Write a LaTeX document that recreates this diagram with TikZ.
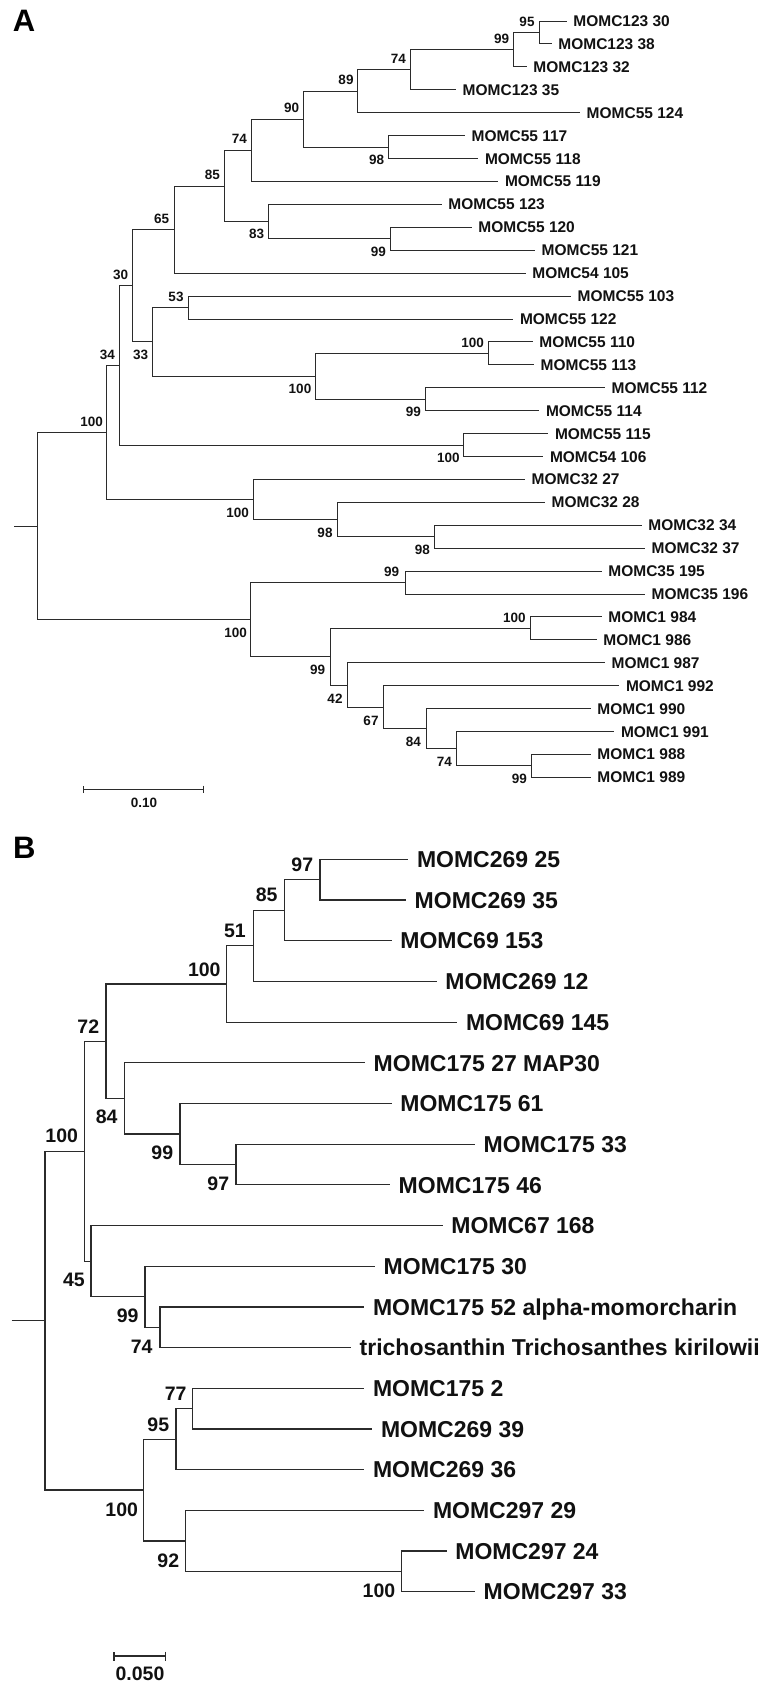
\documentclass[tikz,border=0pt]{standalone}
\usepackage{fontspec}
\setmainfont{Liberation Sans}
\usetikzlibrary{arrows.meta}
\definecolor{treeline}{HTML}{2B2B2B}
\definecolor{labeltext}{HTML}{111111}
\tikzset{
  branch-a/.style={draw=treeline, line width=0.9pt},
  branch-b/.style={draw=treeline, line width=1.2pt},
  tip-a/.style={anchor=west, inner xsep=6.5pt, inner ysep=0pt, text height=11.1pt, text depth=0pt, text=labeltext, font=\fontsize{15.5}{18}\selectfont\bfseries},
  tip-b/.style={anchor=west, inner xsep=8.5pt, inner ysep=0pt, text height=16.5pt, text depth=0pt, text=labeltext, font=\fontsize{23}{27}\selectfont\bfseries},
  boot-a/.style={inner sep=0pt, text=labeltext, font=\fontsize{13.5}{16}\selectfont\bfseries},
  boot-b/.style={inner sep=0pt, text=labeltext, font=\fontsize{19.5}{23}\selectfont\bfseries},
  panel-letter/.style={inner sep=0pt, text=black, font=\fontsize{31}{36}\selectfont\bfseries},
  scale-bar-a/.style={draw=treeline, line width=0.9pt, {Bar[width=7.4pt]}-{Bar[width=7.4pt]}},
  scale-bar-b/.style={draw=treeline, line width=1.2pt, {Bar[width=9pt]}-{Bar[width=9pt]}}
}
\begin{document}
\begin{tikzpicture}[x=1pt, y=-1pt]
\useasboundingbox (0,0) rectangle (769,1690);

\node[panel-letter] (letterA) at (24,21.3) {A};
\node[panel-letter] (letterB) at (24.2,848) {B};

% tree A
\node[tip-a] (t1) at (566.7,21.0) {MOMC123 30};
\node[tip-a] (t2) at (551.7,43.9) {MOMC123 38};
\node[tip-a] (t3) at (526.7,66.8) {MOMC123 32};
\node[tip-a] (t4) at (456,89.8) {MOMC123 35};
\node[tip-a] (t5) at (580,112.7) {MOMC55 124};
\node[tip-a] (t6) at (465,135.6) {MOMC55 117};
\node[tip-a] (t7) at (478.3,158.5) {MOMC55 118};
\node[tip-a] (t8) at (498.3,181.4) {MOMC55 119};
\node[tip-a] (t9) at (441.7,204.4) {MOMC55 123};
\node[tip-a] (t10) at (471.7,227.3) {MOMC55 120};
\node[tip-a] (t11) at (535,250.2) {MOMC55 121};
\node[tip-a] (t12) at (525.7,273.1) {MOMC54 105};
\node[tip-a] (t13) at (571,296.0) {MOMC55 103};
\node[tip-a] (t14) at (513.3,319.0) {MOMC55 122};
\node[tip-a] (t15) at (532.7,341.9) {MOMC55 110};
\node[tip-a] (t16) at (534,364.8) {MOMC55 113};
\node[tip-a] (t17) at (605,387.7) {MOMC55 112};
\node[tip-a] (t18) at (539.3,410.6) {MOMC55 114};
\node[tip-a] (t19) at (548.3,433.6) {MOMC55 115};
\node[tip-a] (t20) at (543.3,456.5) {MOMC54 106};
\node[tip-a] (t21) at (525,479.4) {MOMC32 27};
\node[tip-a] (t22) at (545,502.3) {MOMC32 28};
\node[tip-a] (t23) at (641.7,525.2) {MOMC32 34};
\node[tip-a] (t24) at (645,548.2) {MOMC32 37};
\node[tip-a] (t25) at (601.7,571.1) {MOMC35 195};
\node[tip-a] (t26) at (645,594.0) {MOMC35 196};
\node[tip-a] (t27) at (601.7,616.9) {MOMC1 984};
\node[tip-a] (t28) at (596.7,639.8) {MOMC1 986};
\node[tip-a] (t29) at (605,662.8) {MOMC1 987};
\node[tip-a] (t30) at (619.3,685.7) {MOMC1 992};
\node[tip-a] (t31) at (590.7,708.6) {MOMC1 990};
\node[tip-a] (t32) at (614.3,731.5) {MOMC1 991};
\node[tip-a] (t33) at (590.7,754.4) {MOMC1 988};
\node[tip-a] (t34) at (590.7,777.4) {MOMC1 989};

\coordinate (a95) at (539.3,32.5);
\coordinate (a99) at (513.3,49.6);
\coordinate (a74) at (410,69.7);
\coordinate (a89) at (357.7,91.2);
\coordinate (a98) at (388.7,147.1);
\coordinate (a90) at (303.3,119.1);
\coordinate (a74b) at (251,150.3);
\coordinate (a99b) at (390,238.8);
\coordinate (a83) at (268.7,221.6);
\coordinate (a85) at (224.3,186.0);
\coordinate (a65) at (174,229.6);
\coordinate (a53) at (188.3,307.5);
\coordinate (a100a) at (488.3,353.4);
\coordinate (a99c) at (425.3,399.2);
\coordinate (a100b) at (315,376.3);
\coordinate (a33) at (152.7,341.9);
\coordinate (a30) at (132.7,285.8);
\coordinate (a100c) at (463.3,445.1);
\coordinate (a34) at (119.3,365.4);
\coordinate (a98a) at (434.3,536.7);
\coordinate (a98b) at (337.7,519.5);
\coordinate (a100d) at (253.3,499.5);
\coordinate (a100e) at (106.7,432.4);
\coordinate (a99d) at (405.7,582.6);
\coordinate (a100f) at (530,628.4);
\coordinate (a99e) at (531.7,765.9);
\coordinate (a74c) at (456.7,748.7);
\coordinate (a84) at (426,728.7);
\coordinate (a67) at (383.3,707.2);
\coordinate (a42) at (347.7,685.0);
\coordinate (a99f) at (330,656.7);
\coordinate (a100g) at (250.7,619.7);
\coordinate (aroot) at (37.3,526.0);
\coordinate (a0) at (14,526.0);

\draw[branch-a] (a95) |- (t1.west) (a95) |- (t2.west);
\draw[branch-a] (a99) |- (a95) (a99) |- (t3.west);
\draw[branch-a] (a74) |- (a99) (a74) |- (t4.west);
\draw[branch-a] (a89) |- (a74) (a89) |- (t5.west);
\draw[branch-a] (a98) |- (t6.west) (a98) |- (t7.west);
\draw[branch-a] (a90) |- (a89) (a90) |- (a98);
\draw[branch-a] (a74b) |- (a90) (a74b) |- (t8.west);
\draw[branch-a] (a99b) |- (t10.west) (a99b) |- (t11.west);
\draw[branch-a] (a83) |- (t9.west) (a83) |- (a99b);
\draw[branch-a] (a85) |- (a74b) (a85) |- (a83);
\draw[branch-a] (a65) |- (a85) (a65) |- (t12.west);
\draw[branch-a] (a53) |- (t13.west) (a53) |- (t14.west);
\draw[branch-a] (a100a) |- (t15.west) (a100a) |- (t16.west);
\draw[branch-a] (a99c) |- (t17.west) (a99c) |- (t18.west);
\draw[branch-a] (a100b) |- (a100a) (a100b) |- (a99c);
\draw[branch-a] (a33) |- (a53) (a33) |- (a100b);
\draw[branch-a] (a30) |- (a65) (a30) |- (a33);
\draw[branch-a] (a100c) |- (t19.west) (a100c) |- (t20.west);
\draw[branch-a] (a34) |- (a30) (a34) |- (a100c);
\draw[branch-a] (a98a) |- (t23.west) (a98a) |- (t24.west);
\draw[branch-a] (a98b) |- (t22.west) (a98b) |- (a98a);
\draw[branch-a] (a100d) |- (t21.west) (a100d) |- (a98b);
\draw[branch-a] (a100e) |- (a34) (a100e) |- (a100d);
\draw[branch-a] (a99d) |- (t25.west) (a99d) |- (t26.west);
\draw[branch-a] (a100f) |- (t27.west) (a100f) |- (t28.west);
\draw[branch-a] (a99e) |- (t33.west) (a99e) |- (t34.west);
\draw[branch-a] (a74c) |- (t32.west) (a74c) |- (a99e);
\draw[branch-a] (a84) |- (t31.west) (a84) |- (a74c);
\draw[branch-a] (a67) |- (t30.west) (a67) |- (a84);
\draw[branch-a] (a42) |- (t29.west) (a42) |- (a67);
\draw[branch-a] (a99f) |- (a100f) (a99f) |- (a42);
\draw[branch-a] (a100g) |- (a99d) (a100g) |- (a99f);
\draw[branch-a] (aroot) |- (a100e) (aroot) |- (a100g);
\draw[branch-a] (a0) -- (aroot);

\node[boot-a] (ba95) at (527,22) {95};
\node[boot-a] (ba99) at (501.7,39.3) {99};
\node[boot-a] (ba74) at (398.3,59.3) {74};
\node[boot-a] (ba89) at (346,80) {89};
\node[boot-a] (ba90) at (291.7,108.3) {90};
\node[boot-a] (ba98) at (376.7,160) {98};
\node[boot-a] (ba74b) at (239.3,139.3) {74};
\node[boot-a] (ba85) at (212.3,175) {85};
\node[boot-a] (ba83) at (256.7,234.3) {83};
\node[boot-a] (ba99b) at (378.3,251.7) {99};
\node[boot-a] (ba65) at (161.7,219) {65};
\node[boot-a] (ba30) at (120.7,275) {30};
\node[boot-a] (ba53) at (176,297.3) {53};
\node[boot-a] (ba33) at (140.7,355) {33};
\node[boot-a] (ba34) at (107.3,355) {34};
\node[boot-a] (ba100b) at (300,389) {100};
\node[boot-a] (ba100a) at (472.7,342.7) {100};
\node[boot-a] (ba99c) at (413.3,412.3) {99};
\node[boot-a] (ba100e) at (91.7,422.3) {100};
\node[boot-a] (ba100c) at (448.3,458.3) {100};
\node[boot-a] (ba100d) at (237.7,512.7) {100};
\node[boot-a] (ba98b) at (325,532.7) {98};
\node[boot-a] (ba98a) at (422.3,550) {98};
\node[boot-a] (ba99d) at (391.7,572.3) {99};
\node[boot-a] (ba100g) at (235.7,632.7) {100};
\node[boot-a] (ba100f) at (514.3,618.3) {100};
\node[boot-a] (ba99f) at (317.7,670) {99};
\node[boot-a] (ba42) at (335,698.3) {42};
\node[boot-a] (ba67) at (371,720.7) {67};
\node[boot-a] (ba84) at (413.3,741.7) {84};
\node[boot-a] (ba74c) at (444.3,761.7) {74};
\node[boot-a] (ba99e) at (519.3,779) {99};

\coordinate (sa1) at (83.3,789.3);
\coordinate (sa2) at (204.3,789.3);
\draw[scale-bar-a] (sa1) -- (sa2);
\node[boot-a] (salabel) at (144,802.7) {0.10};

% tree B
\node[tip-b] (s1) at (408.3,859.3) {MOMC269 25};
\node[tip-b] (s2) at (406,900.0) {MOMC269 35};
\node[tip-b] (s3) at (391.7,940.7) {MOMC69 153};
\node[tip-b] (s4) at (436.7,981.4) {MOMC269 12};
\node[tip-b] (s5) at (457.3,1022.1) {MOMC69 145};
\node[tip-b] (s6) at (365,1062.8) {MOMC175 27 MAP30};
\node[tip-b] (s7) at (391.7,1103.4) {MOMC175 61};
\node[tip-b] (s8) at (475,1144.1) {MOMC175 33};
\node[tip-b] (s9) at (390,1184.8) {MOMC175 46};
\node[tip-b] (s10) at (442.7,1225.5) {MOMC67 168};
\node[tip-b] (s11) at (375,1266.2) {MOMC175 30};
\node[tip-b] (s12) at (364.3,1306.9) {MOMC175 52 alpha-momorcharin};
\node[tip-b] (s13) at (351,1347.6) {trichosanthin Trichosanthes kirilowii};
\node[tip-b] (s14) at (364.3,1388.3) {MOMC175 2};
\node[tip-b] (s15) at (372.3,1429.0) {MOMC269 39};
\node[tip-b] (s16) at (364.3,1469.7) {MOMC269 36};
\node[tip-b] (s17) at (424.3,1510.3) {MOMC297 29};
\node[tip-b] (s18) at (446.7,1551.0) {MOMC297 24};
\node[tip-b] (s19) at (475,1591.7) {MOMC297 33};

\coordinate (b97) at (320,879.7);
\coordinate (b85) at (284.3,910.2);
\coordinate (b51) at (253.3,945.8);
\coordinate (b100a) at (226.7,983.9);
\coordinate (b97b) at (236,1164.5);
\coordinate (b99) at (180,1134.0);
\coordinate (b84) at (124.3,1098.4);
\coordinate (b72) at (106,1041.2);
\coordinate (b74) at (160,1327.3);
\coordinate (b99b) at (145,1296.7);
\coordinate (b45) at (91,1261.1);
\coordinate (bx) at (84.3,1151.1);
\coordinate (b77) at (192.7,1408.7);
\coordinate (b95) at (176,1439.2);
\coordinate (b100b) at (401.7,1571.4);
\coordinate (b92) at (185.7,1540.9);
\coordinate (b100c) at (143.3,1490.0);
\coordinate (broot) at (45,1320.6);
\coordinate (b0) at (11.7,1320.6);

\draw[branch-b] (b97) |- (s1.west) (b97) |- (s2.west);
\draw[branch-b] (b85) |- (b97) (b85) |- (s3.west);
\draw[branch-b] (b51) |- (b85) (b51) |- (s4.west);
\draw[branch-b] (b100a) |- (b51) (b100a) |- (s5.west);
\draw[branch-b] (b97b) |- (s8.west) (b97b) |- (s9.west);
\draw[branch-b] (b99) |- (s7.west) (b99) |- (b97b);
\draw[branch-b] (b84) |- (s6.west) (b84) |- (b99);
\draw[branch-b] (b72) |- (b100a) (b72) |- (b84);
\draw[branch-b] (b74) |- (s12.west) (b74) |- (s13.west);
\draw[branch-b] (b99b) |- (s11.west) (b99b) |- (b74);
\draw[branch-b] (b45) |- (s10.west) (b45) |- (b99b);
\draw[branch-b] (bx) |- (b72) (bx) |- (b45);
\draw[branch-b] (b77) |- (s14.west) (b77) |- (s15.west);
\draw[branch-b] (b95) |- (b77) (b95) |- (s16.west);
\draw[branch-b] (b100b) |- (s18.west) (b100b) |- (s19.west);
\draw[branch-b] (b92) |- (s17.west) (b92) |- (b100b);
\draw[branch-b] (b100c) |- (b95) (b100c) |- (b92);
\draw[branch-b] (broot) |- (bx) (broot) |- (b100c);
\draw[branch-b] (b0) -- (broot);

\node[boot-b] (bb97) at (302.3,864.3) {97};
\node[boot-b] (bb85) at (266.7,895) {85};
\node[boot-b] (bb51) at (235,930.7) {51};
\node[boot-b] (bb100a) at (204.3,969.3) {100};
\node[boot-b] (bb72) at (88.3,1026.7) {72};
\node[boot-b] (bb84) at (106.7,1116.7) {84};
\node[boot-b] (bb99) at (162.3,1152.7) {99};
\node[boot-b] (bb97b) at (218.3,1183.3) {97};
\node[boot-b] (bbroot) at (61.7,1136) {100};
\node[boot-b] (bb45) at (74,1280) {45};
\node[boot-b] (bb99b) at (127.7,1316) {99};
\node[boot-b] (bb74) at (141.7,1346.7) {74};
\node[boot-b] (bb77) at (175.7,1394) {77};
\node[boot-b] (bb95) at (158.3,1425) {95};
\node[boot-b] (bb100c) at (121.7,1509.3) {100};
\node[boot-b] (bb92) at (168.3,1560.7) {92};
\node[boot-b] (bb100b) at (379,1590.7) {100};

\coordinate (sb1) at (113.3,1656);
\coordinate (sb2) at (165.7,1656);
\draw[scale-bar-b] (sb1) -- (sb2);
\node[boot-b] (sblabel) at (140,1674) {0.050};

\end{tikzpicture}
\end{document}
